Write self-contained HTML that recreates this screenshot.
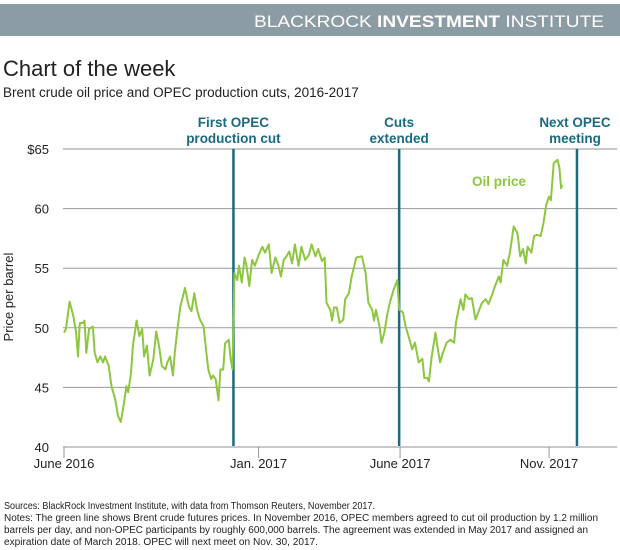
<!DOCTYPE html>
<html><head><meta charset="utf-8">
<style>
body{margin:0;background:#fff;width:620px;height:550px;overflow:hidden;font-family:"Liberation Sans",sans-serif;}
svg{display:block}
</style></head><body>
<svg width="620" height="550" viewBox="0 0 620 550">
<rect x="0" y="4" width="620" height="32" fill="#8c9ca4"/>
<text x="254" y="27" textLength="350" lengthAdjust="spacingAndGlyphs" fill="#fff" font-size="17">BLACKROCK <tspan font-weight="bold">INVESTMENT</tspan> INSTITUTE</text>
<text x="3" y="76" font-size="22" fill="#222">Chart of the week</text>
<text x="3" y="97" font-size="13.5" fill="#222">Brent crude oil price and OPEC production cuts, 2016-2017</text>
<g id="grid"></g>
<g id="vlines"></g>
<g id="series"></g>
<g id="xaxis"></g>
<text transform="translate(13,297) rotate(-90)" text-anchor="middle" font-size="13" fill="#222">Price per barrel</text>
<text x="472" y="186" font-size="13.5" font-weight="bold" fill="#8dc63f">Oil price</text>
<text x="4" y="509" font-size="9.8" textLength="371" lengthAdjust="spacingAndGlyphs" fill="#222">Sources: BlackRock Investment Institute, with data from Thomson Reuters, November 2017.</text>
<text x="4" y="521" font-size="9.8" textLength="594" lengthAdjust="spacingAndGlyphs" fill="#222">Notes: The green line shows Brent crude futures prices. In November 2016, OPEC members agreed to cut oil production by 1.2 million</text>
<text x="4" y="533" font-size="9.8" textLength="584" lengthAdjust="spacingAndGlyphs" fill="#222">barrels per day, and non-OPEC participants by roughly 600,000 barrels. The agreement was extended in May 2017 and assigned an</text>
<text x="4" y="545" font-size="9.8" textLength="314" lengthAdjust="spacingAndGlyphs" fill="#222">expiration date of March 2018. OPEC will next meet on Nov. 30, 2017.</text>
</svg>
<script>
const days = [0,2,6,10,13,15,17,20,22,24,27,31,33,36,39,42,44,48,51,55,58,61,64,67,69,72,74,78,81,84,86,89,92,96,99,102,105,109,111,114,117,119,121,125,127,130,134,137,140,143,146,150,153,155,158,160,163,166,168,171,173,177,179,181,183,186,188,191,194,196,199,202,205,209,213,216,220,223,227,230,233,236,239,242,245,248,252,255,259,263,266,270,273,277,280,282,286,288,290,293,296,300,302,306,309,314,320,324,327,331,333,335,339,341,344,347,350,354,358,360,364,367,370,374,377,381,385,387,390,392,395,399,401,404,407,411,415,419,421,426,429,431,435,438,442,445,449,453,456,460,463,467,469,472,476,479,483,487,490,493,496,498,502,505,508,512,515,518,521,523,526,530,532,534,535];
const prices = [49.6,49.9,52.2,51.0,49.6,47.6,50.4,50.4,50.6,47.9,49.9,50.1,47.9,47.1,47.6,47.1,47.6,46.8,45.1,44.0,42.6,42.1,43.5,45.1,44.6,46.2,48.5,50.6,49.3,49.9,47.6,48.5,46.0,47.4,49.7,48.5,46.8,46.5,47.1,47.6,46.0,47.9,49.3,51.8,52.4,53.35,51.8,51.4,52.9,51.5,50.7,50.1,47.9,46.5,45.7,46.0,45.7,43.9,46.5,46.5,48.7,49.0,47.4,46.5,54.6,54.0,55.2,53.8,55.9,55.2,53.5,55.7,55.2,56.1,56.8,56.3,57.0,54.6,55.9,55.3,54.3,55.7,56.0,56.4,55.4,57.0,55.2,56.8,55.7,56.1,57.0,56.0,56.6,55.6,55.9,52.1,51.5,50.6,51.7,51.7,50.4,50.7,52.4,52.9,54.3,55.9,56.0,54.6,52.1,51.5,50.6,51.5,50.1,48.75,49.6,51.0,52.1,53.2,54.0,51.5,51.3,50.1,49.3,48.2,48.75,47.1,47.4,45.8,45.8,45.5,47.6,49.6,48.5,47.1,47.9,48.75,49.0,48.75,50.4,52.4,51.5,52.8,52.4,52.5,50.7,51.3,52.1,52.4,52.0,52.8,53.5,54.3,53.8,55.7,55.2,56.3,58.5,57.95,56.0,56.6,55.4,56.8,56.3,57.7,57.8,57.7,58.8,60.3,61.0,60.7,63.8,64.1,63.5,61.7,62.0];
const yTicks = [40,45,50,55,60,65];
const yTickLabels = ["40","45","50","55","60","$65"];
const xTickDays = [0,209,361,521];
const xTickLabels = ["June 2016","Jan. 2017","June 2017","Nov. 2017"];
const eventDays = [182,360,551];
const eventLabels = [["First OPEC","production cut"],["Cuts","extended"],["Next OPEC","meeting"]];

const NS="http://www.w3.org/2000/svg";
const X0=64, XR=617, D1=594;
const xs = d => X0 + d*(XR-X0)/D1;
const ys = v => 447 - (v-40)*(447-149)/25;
function mk(tag, attrs, parent){const e=document.createElementNS(NS,tag);for(const k in attrs)e.setAttribute(k,attrs[k]);parent.appendChild(e);return e;}
const grid=document.getElementById('grid');
yTicks.forEach((v,i)=>{
  if(v!==40){
    const l=mk('line',{x1:63,x2:617,y1:ys(v),y2:ys(v),stroke:v===65?'#c8c8c8':'#999','stroke-width':v===65?2:1},grid);
    
    
  }
  const t=mk('text',{x:49,y:ys(v)+5,'text-anchor':'end','font-size':13,fill:'#222'},grid);
  t.textContent=yTickLabels[i];
  
  
});
const vl=document.getElementById('vlines');
eventDays.forEach((d,i)=>{
  const l=mk('line',{x1:xs(d),x2:xs(d),y1:149,y2:447,stroke:'#1a6a80','stroke-width':2.5},vl);
  
  
  eventLabels[i].forEach((s,j)=>{
    const t=mk('text',{x:xs(d)-(i===2?2:0),y:127+j*16,'text-anchor':'middle','font-size':13.5,'font-weight':'bold',fill:'#1a6a80'},vl);
    t.textContent=s;
    
    
  });
});
const sg=document.getElementById('series');
const p=mk('path',{d:days.map((d,i)=>(i?'L':'M')+xs(d).toFixed(1)+' '+ys(prices[i]).toFixed(1)).join(''),fill:'none',stroke:'#8dc63f','stroke-width':2,'stroke-linejoin':'round'},sg);


const xa=document.getElementById('xaxis');
const ax=mk('line',{x1:63,x2:617,y1:447,y2:447,stroke:'#c8c8c8','stroke-width':2},xa);


xTickDays.forEach((d,i)=>{
  const tk=mk('line',{x1:xs(d),x2:xs(d),y1:447,y2:458,stroke:'#999','stroke-width':1},xa);
  
  
  const t=mk('text',{x:xs(d),y:468,'text-anchor':'middle','font-size':13,fill:'#222'},xa);
  t.textContent=xTickLabels[i];
  
  
});
</script>
</body></html>
